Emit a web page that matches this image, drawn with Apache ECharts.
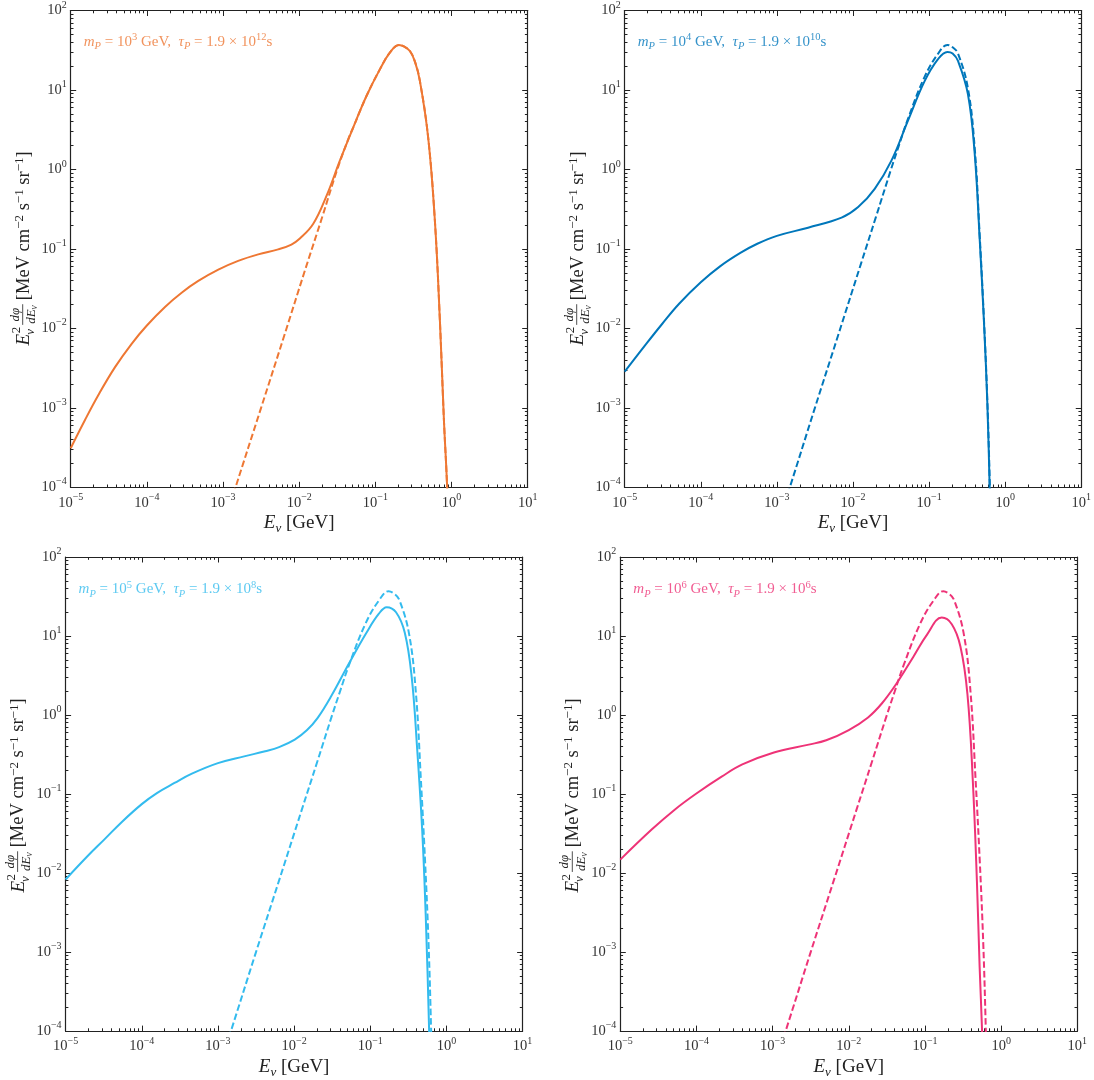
<!DOCTYPE html>
<html>
<head>
<meta charset="utf-8">
<script src="https://cdn.jsdelivr.net/npm/echarts@6/dist/echarts.min.js"></script>
<style>
  html, body { margin: 0; padding: 0; background: #fff; }
  #chart { width: 1094px; height: 1080px; }
</style>
</head>
<body>
<div id="chart"></div>
<script>
// axis decades
const xTicks = [1e-5, 1e-4, 1e-3, 1e-2, 1e-1, 1, 10];
const yTicks = [1e-4, 1e-3, 1e-2, 1e-1, 1, 10, 100];

// panel labels: m_P = 10^a GeV, tau_P = 1.9 x 10^b s
const massExp = [3, 4, 5, 6];
const lifetimeExp = [12, 10, 8, 6];

// [E_nu (GeV), E^2 dphi/dE]
const p1Solid = [
  [1e-5, 3.1e-4], [1.54e-5, 7.03e-4], [2.31e-5, 1.45e-3], [3.82e-5, 3.25e-3],
  [6.31e-5, 6.4e-3], [1e-4, 1.087e-2], [1.73e-4, 1.86e-2], [2.86e-4, 2.81e-2],
  [4.73e-4, 3.95e-2], [8.67e-4, 5.48e-2], [1.58e-3, 7.06e-2], [2.9e-3, 8.53e-2],
  [5.3e-3, 9.86e-2], [7.9e-3, 0.1135], [1.02e-2, 0.135], [1.53e-2, 0.207],
  [2.29e-2, 0.468], [3.42e-2, 1.29], [5.13e-2, 3.39], [7.67e-2, 8.45],
  [0.115, 18.3], [0.155, 29.5], [0.204, 36.9], [0.24, 35.1], [0.284, 30.9],
  [0.33, 22.9], [0.384, 13.0], [0.493, 2.54], [0.604, 0.229], [0.703, 1.27e-2],
  [0.794, 7.1e-4], [0.875, 1.02e-4], [0.91, 2.5e-5]
];
const p1Dashed = [
  [1.26e-3, 6.3e-5], [1.46e-3, 1.0e-4], [3.16e-3, 1.0e-3], [6.31e-3, 7.9e-3],
  [1.19e-2, 5.37e-2], [2.0e-2, 0.25], [3.16e-2, 1.0], [4.47e-2, 2.5],
  [5.13e-2, 3.39], [7.67e-2, 8.45], [0.115, 18.3], [0.155, 29.5], [0.204, 36.9],
  [0.24, 35.1], [0.284, 30.9], [0.33, 22.9], [0.384, 13.0], [0.493, 2.54],
  [0.604, 0.229], [0.703, 1.27e-2], [0.794, 7.1e-4], [0.875, 1.02e-4], [0.91, 2.5e-5]
];
const p2Solid = [
  [1e-5, 2.85e-3], [1.85e-5, 6.1e-3], [3.1e-5, 1.135e-2], [5.19e-5, 2.04e-2],
  [1e-4, 3.8e-2], [1.79e-4, 6.03e-2], [3.31e-4, 8.9e-2], [5.53e-4, 0.116],
  [1e-3, 0.146], [2.57e-3, 0.185], [7.08e-3, 0.247], [1.17e-2, 0.336],
  [1.93e-2, 0.57], [3.2e-2, 1.29], [5.28e-2, 4.11], [8.77e-2, 13.0],
  [0.131, 24.4], [0.174, 30.1], [0.204, 28.8], [0.24, 23.2], [0.324, 8.87],
  [0.398, 1.57], [0.461, 0.141], [0.525, 1.27e-2], [0.583, 1.15e-3],
  [0.625, 1.02e-4], [0.646, 2.5e-5]
];
// dashed curve is the same in panels 2-4
const p234Dashed = [
  [1.26e-3, 6.3e-5], [1.48e-3, 1.0e-4], [3.16e-3, 1.0e-3], [6.31e-3, 7.9e-3],
  [1.26e-2, 6.3e-2], [2.0e-2, 0.251], [3.16e-2, 1.0], [3.98e-2, 1.95],
  [5.25e-2, 4.27], [8.7e-2, 14.5], [0.132, 28.8], [0.174, 36.9], [0.204, 34.5],
  [0.24, 28.8], [0.324, 10.5], [0.398, 1.86], [0.461, 0.158], [0.525, 1.38e-2],
  [0.583, 1.26e-3], [0.628, 1.12e-4], [0.646, 3.2e-5]
];
const p3Solid = [
  [1e-5, 8.3e-3], [1.92e-5, 1.62e-2], [3.26e-5, 2.69e-2], [5.52e-5, 4.47e-2],
  [1e-4, 7.46e-2], [1.58e-4, 0.103], [2.69e-4, 0.138], [4.55e-4, 0.181], [1e-3, 0.246],
  [2.21e-3, 0.30], [4.17e-3, 0.348], [6.35e-3, 0.393], [1.02e-2, 0.489],
  [1.48e-2, 0.646], [2.03e-2, 0.914], [3.09e-2, 1.75], [5.25e-2, 4.49],
  [8.91e-2, 11.0], [0.129, 19.0], [0.164, 23.2], [0.218, 20.0], [0.284, 11.0],
  [0.35, 3.01], [0.41, 0.412], [0.481, 3.44e-2], [0.535, 2.86e-3],
  [0.593, 1.0e-4], [0.61, 2.5e-5]
];
const p4Solid = [
  [1e-5, 1.48e-2], [2.58e-5, 3.55e-2], [5.13e-5, 6.3e-2], [1.02e-4, 0.103],
  [2.14e-4, 0.166], [4.0e-4, 0.237], [1.04e-3, 0.335], [2.98e-3, 0.422],
  [5.05e-3, 0.479], [1e-2, 0.646], [1.79e-2, 0.933], [2.73e-2, 1.41],
  [4.17e-2, 2.45], [7.05e-2, 5.48], [0.107, 10.5], [0.166, 17.1], [0.225, 14.1],
  [0.292, 7.38], [0.361, 1.84], [0.424, 0.153], [0.481, 7.8e-3],
  [0.522, 6.5e-4], [0.562, 1.0e-4], [0.575, 3.2e-5]
];

const panels = [
  { solid: p1Solid, dashed: p1Dashed },
  { solid: p2Solid, dashed: p234Dashed },
  { solid: p3Solid, dashed: p234Dashed },
  { solid: p4Solid, dashed: p234Dashed }
];
const colors = ['#EE7733', '#0077BB', '#33BBEE', '#EE3377'];
const textColors = ['rgba(238,119,51,0.8)', 'rgba(0,119,187,0.8)', 'rgba(51,187,238,0.8)', 'rgba(238,51,119,0.8)'];

const grids = [
  { left: 70.7, top: 9.5, width: 457, height: 477.8 },
  { left: 624.7, top: 9.5, width: 457, height: 477.8 },
  { left: 65.6, top: 557, width: 457, height: 477 },
  { left: 620.3, top: 557, width: 457, height: 477 }
];

const SERIF = '"Liberation Serif", "DejaVu Serif", serif';
const AX = '#222';

function minorOf(decades) {
  const out = [];
  for (let k = 0; k < decades.length - 1; k++) {
    for (let m = 2; m <= 9; m++) out.push(m * decades[k]);
  }
  return out;
}
const xMinor = minorOf(xTicks);
const yMinor = minorOf(yTicks);

function powLabel(v) {
  const e = Math.round(Math.log10(v));
  return '{b|10}{e|' + (e < 0 ? '\u2212' + (-e) : e) + '}';
}
const tickRich = {
  b: { fontFamily: SERIF, fontSize: 14.5, color: '#333', lineHeight: 21 },
  e: { fontFamily: SERIF, fontSize: 10, color: '#333', lineHeight: 11, verticalAlign: 'top' }
};

const chart = echarts.init(document.getElementById('chart'));

const xAxes = [];
const yAxes = [];
const series = [];
const graphics = [];

function makeAxis(i, pos, range, majors, minors, major, withLabel) {
  const a = {
    type: 'log',
    logBase: 10,
    gridIndex: i,
    position: pos,
    min: range[0],
    max: range[1],
    splitLine: { show: false },
    minorTick: { show: false },
    minorSplitLine: { show: false },
    axisLine: { show: major, onZero: false, lineStyle: { color: AX, width: 1.2 } },
    axisTick: {
      show: true,
      inside: true,
      length: major ? 5.5 : 2.8,
      customValues: major ? majors : minors,
      lineStyle: { color: AX, width: 1 }
    },
    axisLabel: { show: false }
  };
  if (withLabel) {
    a.axisLabel = {
      show: true,
      customValues: majors,
      formatter: powLabel,
      margin: pos === 'bottom' ? 5 : 4,
      rich: tickRich
    };
  }
  return a;
}

// text widths for the rotated y title
const mctx = document.createElement('canvas').getContext('2d');
function tw(font, s) { mctx.font = font; return mctx.measureText(s).width; }

function yTitle(cx, cy) {
  const fE = 'italic 19px ' + SERIF;
  const fS = '13px ' + SERIF;
  const fSi = 'italic 13px ' + SERIF;
  const fN = 'italic 13px ' + SERIF;
  const fNs = 'italic 9.5px ' + SERIF;
  const fR = '18.5px ' + SERIF;
  const fRs = '13px ' + SERIF;

  const wE = tw(fE, 'E');
  const xs = wE + 0.5;
  const wS = Math.max(tw(fS, '2'), tw(fSi, '\u03bd'));
  const xf = xs + wS + 2;
  const wNum = tw(fN, 'd\u03c6');
  const wDen = tw(fN, 'dE') + tw(fNs, '\u03bd');
  const wF = Math.max(wNum, wDen) + 2;
  const xr = xf + wF + 4;
  const wR = tw(fR, '[MeV cm') + tw(fRs, '\u22122') + tw(fR, ' s') + tw(fRs, '\u22121') +
    tw(fR, ' sr') + tw(fRs, '\u22121') + tw(fR, ']');
  const W = xr + wR;
  const fc = xf + wF / 2;

  const txt = (x, y, text, font, align, extra) => ({
    type: 'text', x: x, y: y, silent: true,
    style: Object.assign({ text: text, font: font, fill: '#222', align: align, verticalAlign: 'middle',
      textAlign: align, textVerticalAlign: 'middle' }, extra || {})
  });

  return {
    type: 'group',
    x: cx,
    y: cy + W / 2,
    rotation: Math.PI / 2,
    silent: true,
    children: [
      txt(0, 0, 'E', fE, 'left'),
      txt(xs, -7, '2', fS, 'left'),
      txt(xs - 1.5, 6.5, '\u03bd', fSi, 'left'),
      txt(fc, -8.5, 'd\u03c6', fN, 'center'),
      {
        type: 'line', silent: true,
        shape: { x1: xf, y1: -1, x2: xf + wF, y2: -1 },
        style: { stroke: '#222', lineWidth: 0.8 }
      },
      txt(fc, 8, '{a|dE}{b|\u03bd}', fN, 'center', {
        rich: { a: { font: fN, lineHeight: 16 }, b: { font: fNs, lineHeight: 10, verticalAlign: 'bottom' } }
      }),
      txt(xr, 0, '[MeV cm{s|\u22122} s{s|\u22121} sr{s|\u22121}]', fR, 'left', {
        lineHeight: 22,
        rich: { s: { font: fRs, lineHeight: 10, verticalAlign: 'top' } }
      })
    ]
  };
}

grids.forEach((g, i) => {
  const xr = [xTicks[0], xTicks[xTicks.length - 1]];
  const yr = [yTicks[0], yTicks[yTicks.length - 1]];

  const xMain = makeAxis(i, 'bottom', xr, xTicks, xMinor, true, true);
  xMain.name = '{i|E}{s|\u03bd} [GeV]';
  xMain.nameLocation = 'middle';
  xMain.nameGap = 21;
  xMain.nameTextStyle = {
    fontFamily: SERIF, fontSize: 19, color: '#222', lineHeight: 24,
    rich: {
      i: { fontFamily: SERIF, fontStyle: 'italic', fontSize: 19, color: '#222', lineHeight: 24 },
      s: { fontFamily: SERIF, fontStyle: 'italic', fontSize: 13, color: '#222', lineHeight: 14, verticalAlign: 'bottom' }
    }
  };
  xAxes.push(xMain);
  xAxes.push(makeAxis(i, 'bottom', xr, xTicks, xMinor, false, false));
  xAxes.push(makeAxis(i, 'top', xr, xTicks, xMinor, true, false));
  xAxes.push(makeAxis(i, 'top', xr, xTicks, xMinor, false, false));

  yAxes.push(makeAxis(i, 'left', yr, yTicks, yMinor, true, true));
  yAxes.push(makeAxis(i, 'left', yr, yTicks, yMinor, false, false));
  yAxes.push(makeAxis(i, 'right', yr, yTicks, yMinor, true, false));
  yAxes.push(makeAxis(i, 'right', yr, yTicks, yMinor, false, false));

  const common = {
    type: 'line',
    xAxisIndex: 4 * i,
    yAxisIndex: 4 * i,
    showSymbol: false,
    symbol: 'none',
    smooth: 0.4,
    silent: true,
    animation: false,
    clip: true
  };
  series.push(Object.assign({}, common, {
    name: 'solid' + i,
    data: panels[i].solid,
    z: 3,
    lineStyle: { color: colors[i], width: 2 },
    itemStyle: { color: colors[i] }
  }));
  series.push(Object.assign({}, common, {
    name: 'dashed' + i,
    data: panels[i].dashed,
    z: 2,
    lineStyle: { color: colors[i], width: 2, type: [6.5, 3] },
    itemStyle: { color: colors[i] }
  }));

  graphics.push({
    type: 'text',
    x: g.left + 13,
    y: g.top + 32.5,
    silent: true,
    style: {
      text: '{i|m}{sb|P}{r| = 10}{sp|' + massExp[i] + '}{r| GeV,  }{i|\u03c4}{sb|P}{r| = 1.9 \u00d7 10}{sp|' +
        lifetimeExp[i] + '}{r|s}',
      fill: textColors[i],
      align: 'left',
      verticalAlign: 'middle',
      textAlign: 'left',
      textVerticalAlign: 'middle',
      rich: {
        i: { font: 'italic 15px ' + SERIF, lineHeight: 20 },
        r: { font: '15px ' + SERIF, lineHeight: 20 },
        sp: { font: '10.5px ' + SERIF, lineHeight: 12, verticalAlign: 'top' },
        sb: { font: 'italic 10.5px ' + SERIF, lineHeight: 12, verticalAlign: 'bottom' }
      }
    }
  });

  graphics.push(yTitle(g.left - 47, g.top + g.height / 2));
});

chart.setOption({
  backgroundColor: '#fff',
  animation: false,
  textStyle: { fontFamily: SERIF },
  grid: grids.map(g => Object.assign({ containLabel: false }, g)),
  xAxis: xAxes,
  yAxis: yAxes,
  series: series,
  graphic: { elements: graphics }
});

window.addEventListener('resize', () => {
  chart.resize();
});
</script>
</body>
</html>
